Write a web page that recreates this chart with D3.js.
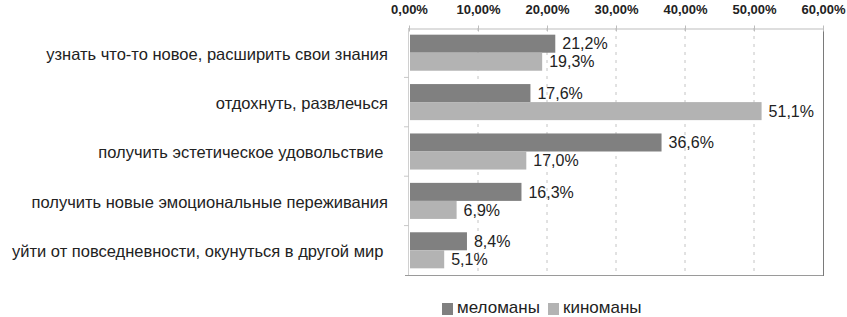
<!DOCTYPE html>
<html>
<head>
<meta charset="utf-8">
<script src="https://cdn.jsdelivr.net/npm/d3@7"></script>
<style>
  html, body { margin: 0; padding: 0; background: #fff; }
  svg { display: block; font-family: Arial, "Liberation Sans", sans-serif; }
</style>
</head>
<body>
<svg id="chart" width="847" height="317"></svg>
<script>
const categories = [
  "узнать что-то новое, расширить свои знания",
  "отдохнуть, развлечься",
  "получить эстетическое удовольствие ",
  "получить новые эмоциональные переживания",
  "уйти от повседневности, окунуться в другой мир "
];
const seriesNames = ["меломаны", "киноманы"];
const melomany = [21.2, 17.6, 36.6, 16.3, 8.4];
const kinomany = [19.3, 51.1, 17.0, 6.9, 5.1];
const xTicks = [0, 10, 20, 30, 40, 50, 60];
const colors = ["#808080", "#b3b3b3"];

(function () {
const svg = d3.select("#chart");
const pLeft = 409, pRight = 823, pTop = 28, pBottom = 275;

const x = d3.scaleLinear().domain([0, 60]).range([pLeft, pRight]);
const y = d3.scaleBand().domain(categories).range([pTop, pBottom]).paddingInner(0.27).paddingOuter(0.135);
const sub = d3.scaleBand().domain(seriesNames).range([0, y.bandwidth()]);

const fmtTick = d => d3.format(".2f")(d).replace(".", ",") + "%";
const fmtVal = d => d3.format(".1f")(d).replace(".", ",") + "%";

// gridlines
svg.append("g").selectAll("line").data(xTicks.filter(t => t > 0 && t < 60)).join("line")
  .attr("x1", d => x(d)).attr("x2", d => x(d))
  .attr("y1", pTop).attr("y2", pBottom)
  .attr("stroke", "#c4c4c4").attr("stroke-width", 1).attr("stroke-dasharray", "3,5");

// left axis line and category ticks
const bounds = categories.map((c, i) => pTop + (pBottom - pTop) * i / categories.length).slice(1);
svg.append("line").attr("x1", pLeft - 0.5).attr("x2", pLeft - 0.5).attr("y1", pTop).attr("y2", pBottom)
  .attr("stroke", "#d0d0d0");
svg.append("g").selectAll("line").data(bounds).join("line")
  .attr("x1", pLeft - 5).attr("x2", pLeft).attr("y1", d => d).attr("y2", d => d)
  .attr("stroke", "#c8c8c8");

// bottom and right frame
svg.append("line").attr("x1", pLeft - 4).attr("x2", pRight).attr("y1", pBottom + 0.5).attr("y2", pBottom + 0.5)
  .attr("stroke", "#9a9a9a");
svg.append("line").attr("x1", pRight + 0.5).attr("x2", pRight + 0.5).attr("y1", pTop).attr("y2", pBottom + 1)
  .attr("stroke", "#7a7a7a");

// top axis
const xAxis = d3.axisTop(x).tickValues(xTicks).tickFormat(fmtTick).tickSizeInner(3).tickSizeOuter(0).tickPadding(12);
const ax = svg.append("g").attr("transform", `translate(0,${pTop + 0.5})`).call(xAxis);
ax.select(".domain").attr("stroke", "#bdbdbd");
ax.selectAll(".tick line").attr("stroke", "#bdbdbd").attr("y1", 3);
ax.selectAll(".tick text").attr("font-size", "13px").attr("font-weight", "bold").attr("fill", "#222");

// bars
const data = categories.map((c, i) => ({ c, vals: [melomany[i], kinomany[i]] }));
const groups = svg.append("g").selectAll("g").data(data).join("g")
  .attr("transform", d => `translate(0,${y(d.c)})`);
groups.selectAll("rect").data(d => d.vals.map((v, j) => ({ v, s: seriesNames[j], j }))).join("rect")
  .attr("x", x(0) + 1)
  .attr("y", d => sub(d.s))
  .attr("width", d => x(d.v) - x(0) - 1)
  .attr("height", sub.bandwidth())
  .attr("fill", d => colors[d.j]);
groups.selectAll("text").data(d => d.vals.map((v, j) => ({ v, s: seriesNames[j], j }))).join("text")
  .attr("x", d => x(d.v) + 7)
  .attr("y", d => sub(d.s) + sub.bandwidth() / 2)
  .attr("dy", "0.36em")
  .attr("font-size", "16px")
  .attr("fill", "#222")
  .text(d => fmtVal(d.v));

// category labels
svg.append("g").selectAll("text").data(categories).join("text")
  .attr("x", 388)
  .attr("y", d => y(d) + y.bandwidth() / 2 + 1)
  .attr("dy", "0.36em")
  .attr("text-anchor", "end")
  .attr("font-size", "16.5px")
  .attr("fill", "#222")
  .style("white-space", "pre")
  .text(d => d);

// legend
const legend = svg.append("g").attr("transform", "translate(442,303)");
const legX = [0, 106];
const lg = legend.selectAll("g").data(seriesNames).join("g")
  .attr("transform", (d, i) => `translate(${legX[i]},0)`);
lg.append("rect").attr("width", 11).attr("height", 12).attr("fill", (d, i) => colors[i]);
lg.append("text").attr("x", 15).attr("y", 10)
  .attr("font-size", "17px").attr("fill", "#222").text(d => d);
})();
</script>
</body>
</html>
